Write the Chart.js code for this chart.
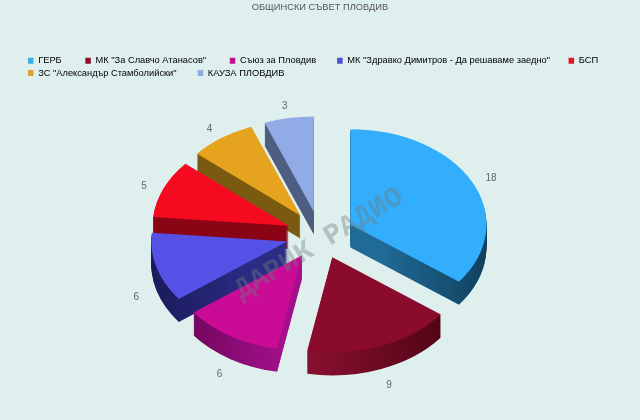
<!DOCTYPE html>
<html><head><meta charset="utf-8">
<style>html,body{margin:0;padding:0;background:#dfefee}canvas{display:block}</style>
<script src="https://cdn.jsdelivr.net/npm/chart.js@4"></script>
</head><body><canvas id="c" width="640" height="420"></canvas>
<script>
const categories = ['ГЕРБ','МК "За Славчо Атанасов"','Съюз за Пловдив','МК "Здравко Димитров - Да решаваме заедно"','БСП','ЗС "Александър Стамболийски"','КАУЗА ПЛОВДИВ'];
const seats = [18,9,6,6,5,4,3];
const topColors = ['#33aefc','#8a0b2b','#c90b96','#5550e6','#f50a20','#e6a41e','#90abe6'];
const sideLeft = ['#206b96','#840f2e','#6b0558','#15154f','#8a0416','#7a5a10','#4e5e80'];
const sideRight = ['#0e3a55','#4e0414','#a3108a','#2c2c86','#8a0416','#7a5a10','#4e5e80'];
const legendSwatches = ['#3aace8','#8b0f2c','#c4108f','#4d4dd8','#e51020','#e0a030','#90aae0'];
const legendGaps = [8,8,7,6,0,7,0];
const paintOrder = [6,5,4,3,2,0,1];
const chartTitle = 'ОБЩИНСКИ СЪВЕТ ПЛОВДИВ';
const watermark = 'ДАРИК РАДИО';

const CX=320, CY=235, SQUASH=0.7, DEPTH=23, LABEL_R=157, LABEL_DY=3, EXPLODE=34, RADIUS=136;

const pie3d = {
  id:'pie3d',
  beforeDatasetsDraw(chart){
    const ctx=chart.ctx, arcs=chart.getDatasetMeta(0).data;
    ctx.save();
    paintOrder.forEach(i=>{
      const a=arcs[i], orig=a.options;
      const mid=(a.startAngle+a.endAngle)/2;
      const ox=EXPLODE*Math.cos(mid), oy=EXPLODE*Math.sin(mid);
      const c=CX+ox;
      const xs=[c,c+RADIUS*Math.cos(a.startAngle),c+RADIUS*Math.cos(a.endAngle),c+RADIUS*Math.cos(mid)];
      const g=ctx.createLinearGradient(Math.min(...xs),0,Math.max(...xs),0);
      g.addColorStop(0,sideLeft[i]); g.addColorStop(1,sideRight[i]);
      const place=d=>{ctx.translate(CX,CY+d);ctx.scale(1,SQUASH);ctx.translate(ox-a.x,oy-a.y);};
      a.options=Object.assign({},orig,{backgroundColor:g,borderWidth:0});
      for(let d=DEPTH;d>=1;d--){
        ctx.save();place(d);a.draw(ctx);ctx.restore();
      }
      a.options=Object.assign({},orig,{borderWidth:0});
      ctx.save();place(0);a.draw(ctx);ctx.restore();
      a.options=orig;
    });
    ctx.restore();
    return false;
  },
  afterDraw(chart){
    const ctx=chart.ctx, arcs=chart.getDatasetMeta(0).data;
    ctx.save();
    ctx.font='10px "Liberation Sans"';ctx.fillStyle='#666';
    ctx.textAlign='center';ctx.textBaseline='middle';
    arcs.forEach((a,i)=>{
      const mid=(a.startAngle+a.endAngle)/2, rr=EXPLODE+LABEL_R;
      const x=CX+rr*Math.cos(mid);
      let y=CY+rr*Math.sin(mid)*SQUASH+LABEL_DY;
      if(Math.sin(mid)>0) y+=DEPTH;
      ctx.fillText(String(seats[i]),x,y);
    });
    ctx.translate(319,244);ctx.rotate(-31*Math.PI/180);
    ctx.font='bold 29px "Liberation Mono"';ctx.fillStyle='rgba(110,125,125,0.4)';
    ctx.fillText(watermark,0,0);
    ctx.restore();
  }
};

new Chart(document.getElementById('c'),{
  type:'pie',
  data:{labels:categories,datasets:[{data:seats,backgroundColor:topColors,borderWidth:0}]},
  plugins:[pie3d],
  options:{
    responsive:false,animation:false,devicePixelRatio:1,radius:RADIUS,
    layout:{padding:{left:25,right:25,top:0,bottom:0}},
    plugins:{
      tooltip:{enabled:false},
      title:{display:true,text:chartTitle,color:'#555',font:{family:'"Liberation Sans"',size:9.3,weight:'normal'},padding:{top:2,bottom:40}},
      legend:{position:'top',align:'start',labels:{
        font:{family:'"Liberation Sans"',size:9.3},color:'#555',boxWidth:5.5,boxHeight:6,padding:3,
        generateLabels(chart){return categories.map((t,i)=>({text:t+'\u00A0'.repeat(legendGaps[i]),fillStyle:legendSwatches[i],strokeStyle:legendSwatches[i],lineWidth:0,index:i,hidden:false}));}
      }}
    }
  }
});
</script></body></html>
